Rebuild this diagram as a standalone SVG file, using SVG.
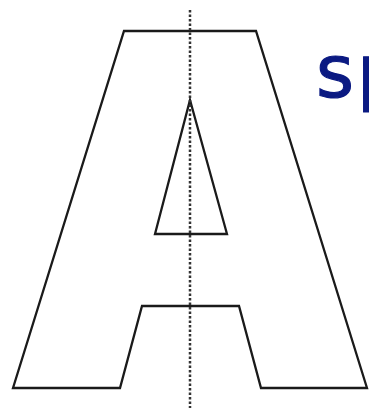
<svg xmlns="http://www.w3.org/2000/svg" width="369" height="408" viewBox="0 0 369 408">
<style>
.ol{fill:none;stroke:#1a1a1a;stroke-width:2.3;stroke-linejoin:miter}
.ax{fill:none;stroke:#333;stroke-width:2.5;stroke-dasharray:2.5 2}
.t{font-family:"DejaVu Sans",sans-serif;font-size:73px;fill:#0b1a82}
</style>
<rect width="369" height="408" fill="#fff"/>
<g id="letter">
<path class="ol" d="M124,31 L256,31 L367,388 L261,388 L239,306 L142,306 L120,388 L13,388 Z"/>
<path class="ol" d="M190,100 L227,234 L155,234 Z"/>
</g>
<g id="axis">
<line class="ax" x1="190" y1="10" x2="190" y2="408"/>
</g>
<text class="t" x="316" y="97" stroke="#0b1a82" stroke-width="1.2" letter-spacing="3">sp</text>
</svg>
